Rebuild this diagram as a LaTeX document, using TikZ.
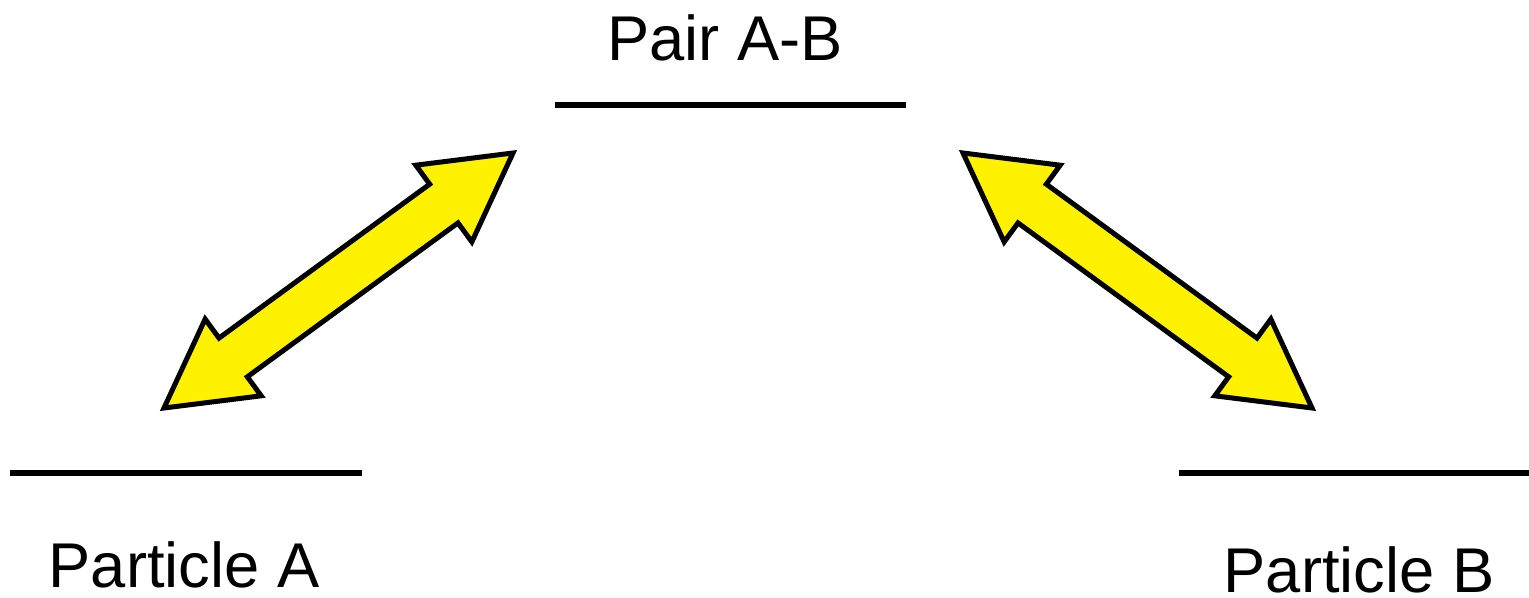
\documentclass[tikz,border=0pt]{standalone}
\usepackage{fontspec}
\setmainfont{Liberation Sans}
\usetikzlibrary{calc,shapes.arrows}

\begin{document}
\begin{tikzpicture}[x=0.02cm,y=-0.02cm,
    levelline/.style={line width=0.12cm},
    leveltag/.style={font=\fontsize{36}{43}\selectfont,inner sep=0pt,anchor=base},
    exchange/.style={double arrow,draw,fill=yellow,line width=0.1cm,
      inner xsep=0pt,inner ysep=0.43cm,double arrow head extend=0.47cm,
      double arrow tip angle=58,double arrow head indent=0pt}]
  \useasboundingbox (0,0) rectangle (1529,598);

  % levels
  \coordinate (aL) at (10,473);   \coordinate (aR) at (362,473);
  \coordinate (abL) at (555,105); \coordinate (abR) at (906,105);
  \coordinate (bL) at (1179,473); \coordinate (bR) at (1529,473);
  \draw[levelline] (aL) -- (aR);
  \draw[levelline] (abL) -- (abR);
  \draw[levelline] (bL) -- (bR);

  \node[leveltag] (pair) at (725,61) {Pair A-B};
  \node[leveltag] (partA) at (184,587) {Particle A};
  \node[leveltag] (partB) at (1359,592) {Particle B};

  % tips of the two exchange arrows
  \coordinate (tipA) at (164,408);
  \coordinate (tipAB1) at (513,153);
  \coordinate (tipAB2) at (963,153);
  \coordinate (tipB) at (1312,408);

  \path let \p1=($(tipAB1)-(tipA)$) in
    (tipA) -- node[exchange,sloped,minimum height={veclen(\x1,\y1)}] (arrowA) {} (tipAB1);
  \path let \p1=($(tipB)-(tipAB2)$) in
    (tipAB2) -- node[exchange,sloped,minimum height={veclen(\x1,\y1)}] (arrowB) {} (tipB);
\end{tikzpicture}
\end{document}
